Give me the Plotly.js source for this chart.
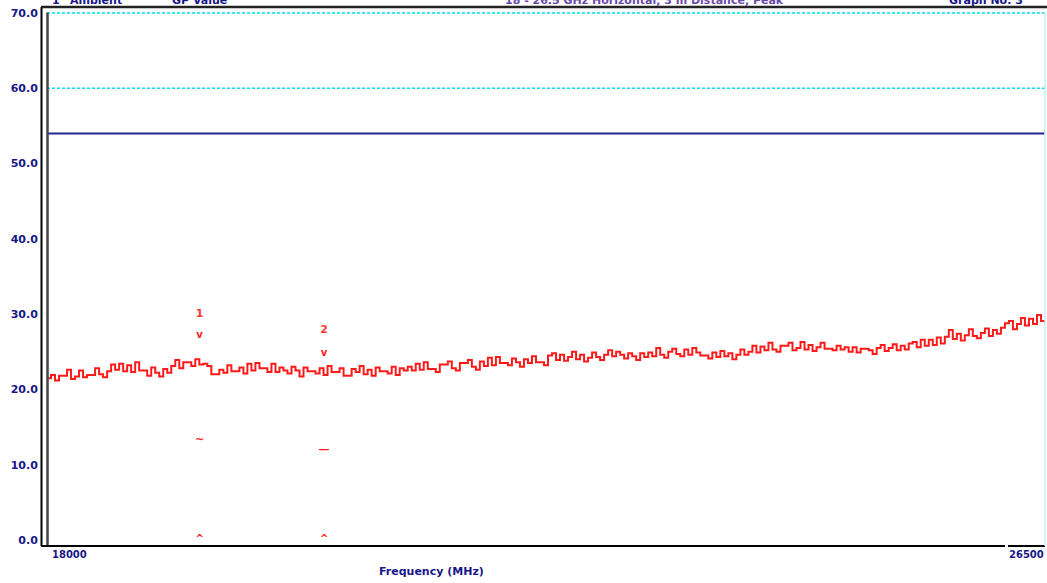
<!DOCTYPE html>
<html>
<head>
<meta charset="utf-8">
<script src="https://cdn.plot.ly/plotly-3.0.1.min.js"></script>
<style>
html,body{margin:0;padding:0;background:#fff;}
#chart{width:1047px;height:583px;}
</style>
</head>
<body>
<div id="chart"></div>
<script>
// ---- data ----
const freqStart = 18000;   // MHz
const freqStop = 26500;    // MHz
const traceLevel = [
  21.5, 21.9, 21.2, 21.8, 21.8, 22.6, 21.4, 21.7, 22.5, 21.6,
  21.9, 21.9, 22.8, 22.0, 21.6, 22.4, 23.3, 22.6, 23.4, 22.4,
  23.2, 22.3, 23.6, 22.5, 22.5, 21.8, 22.9, 22.2, 21.7, 22.7,
  22.2, 23.1, 23.9, 22.8, 23.6, 23.6, 23.1, 24.0, 23.3, 23.4,
  23.1, 22.0, 22.0, 22.6, 22.2, 23.2, 22.4, 22.4, 22.9, 22.1,
  23.4, 22.5, 23.5, 22.8, 22.8, 22.3, 23.4, 22.3, 22.9, 22.5,
  22.1, 23.0, 22.5, 21.7, 22.9, 22.4, 22.4, 22.1, 22.8, 21.9,
  23.1, 22.3, 22.3, 22.8, 21.8, 21.8, 22.7, 22.3, 23.1, 22.0,
  22.6, 21.8, 22.9, 22.4, 22.4, 22.1, 23.0, 21.9, 22.8, 22.5,
  23.0, 22.5, 23.4, 22.6, 23.6, 22.7, 22.7, 22.3, 23.3, 23.3,
  23.7, 22.8, 22.5, 23.5, 23.5, 23.9, 23.0, 22.6, 23.7, 23.1,
  24.2, 23.2, 24.3, 23.5, 23.5, 23.2, 24.1, 23.6, 23.0, 24.0,
  23.5, 24.4, 23.6, 23.6, 23.2, 24.5, 24.8, 23.9, 24.6, 23.8,
  24.3, 25.0, 24.0, 24.6, 23.7, 24.2, 24.9, 24.3, 23.9, 24.6,
  25.2, 24.4, 25.0, 24.6, 24.1, 24.8, 24.4, 23.9, 24.8, 24.3,
  24.9, 24.4, 25.5, 24.6, 24.2, 25.0, 25.4, 24.7, 24.4, 25.3,
  24.6, 25.5, 24.9, 24.5, 24.5, 24.1, 24.9, 24.3, 25.1, 24.4,
  24.8, 24.0, 24.6, 25.3, 24.6, 25.0, 25.8, 24.9, 25.7, 25.2,
  26.2, 25.3, 25.0, 25.8, 25.8, 26.2, 25.2, 25.5, 26.3, 25.3,
  25.9, 25.1, 25.6, 26.2, 25.4, 25.4, 25.2, 25.8, 25.3, 25.6,
  25.0, 25.6, 24.9, 25.4, 25.4, 25.2, 24.7, 25.5, 25.9, 25.1,
  25.5, 26.0, 25.2, 25.8, 25.3, 26.1, 26.3, 25.6, 26.6, 25.8,
  26.6, 25.9, 26.9, 26.1, 27.0, 27.9, 26.7, 27.4, 26.5, 27.2,
  28.0, 27.1, 26.8, 27.5, 28.1, 27.1, 27.9, 27.4, 28.2, 28.8,
  29.1, 28.0, 28.7, 29.5, 28.5, 29.4, 28.7, 29.9, 29.1, 28.8
];
const dashedLimits = [70, 60];
const solidLimit = [54];
const markerFreq = [19300, 20360];
const markerLabel = ['1', '2'];
const markerLabelLevel = [30.0, 27.8];
const markerPeakLevel = [27.1, 24.8];
const markerLowLevel = [13.2, 11.9];
const markerLowGlyph = ['~', '\u2014'];
const markerBaseLevel = [0, 0];
const yTickVals = [0, 10, 20, 30, 40, 50, 60, 70];
const yTickText = ['0.0', '10.0', '20.0', '30.0', '40.0', '50.0', '60.0', '70.0'];
const xTickLabels = ['18000', '26500'];
const headerTexts = ['1', 'Ambient', 'GP Value', '18 - 26.5 GHz Horizontal, 3 m Distance, Peak', 'Graph No. 3'];

// ---- build ----
const step = (freqStop - freqStart) / (traceLevel.length - 1);
const traceFreq = traceLevel.map((_, i) => freqStart + i * step);

const navy = '#17178a';
const red = '#ff1a1a';
const F = 'DejaVu Sans';

const traces = [];
dashedLimits.forEach(v => traces.push({
  x: [freqStart, freqStop], y: [v, v], mode: 'lines', hoverinfo: 'skip',
  line: {color: '#00e0f0', width: 1.5, dash: '3px,2px'}
}));
solidLimit.forEach(v => traces.push({
  x: [freqStart, freqStop], y: [v, v], mode: 'lines', hoverinfo: 'skip',
  line: {color: '#25258f', width: 2}
}));
traces.push({
  x: traceFreq, y: traceLevel, mode: 'lines',
  line: {color: red, width: 2, shape: 'hv'}
});
traces.push({x: markerFreq, y: markerLabelLevel, mode: 'text', text: markerLabel,
  textfont: {family: F, size: 11, color: '#ff3a30', weight: 'bold'}, textposition: 'middle center'});
traces.push({x: markerFreq, y: markerPeakLevel, mode: 'text', text: markerFreq.map(() => 'v'),
  textfont: {family: F, size: 10, color: red, weight: 'bold'}, textposition: 'middle center'});
traces.push({x: markerFreq, y: markerLowLevel, mode: 'text', text: markerLowGlyph,
  textfont: {family: F, size: 11, color: red, weight: 'bold'}, textposition: 'middle center'});
traces.push({x: markerFreq, y: markerBaseLevel, mode: 'text', text: markerFreq.map(() => '^'),
  textfont: {family: F, size: 10, color: red, weight: 'bold'}, textposition: 'middle center'});

const W = 998; // plot width px
const px = p => (p - 47) / W; // pixel -> paper x
const shapes = [
  {type: 'line', xref: 'paper', yref: 'paper', x0: px(41.5), x1: px(41.5), y0: 0, y1: 1.0, line: {color: '#000', width: 2}},
  {type: 'line', xref: 'paper', yref: 'paper', x0: px(47.5), x1: px(47.5), y0: 0, y1: 0.99, line: {color: '#444', width: 2.5}},
  {type: 'line', xref: 'paper', yref: 'paper', x0: px(41), x1: px(1047), y0: 1, y1: 1, line: {color: '#222', width: 2.5}},
  {type: 'line', xref: 'paper', yref: 'paper', x0: px(41), x1: px(1005), y0: 0, y1: 0, line: {color: '#000', width: 2}},
  {type: 'line', xref: 'paper', yref: 'paper', x0: px(1008), x1: px(1045), y0: 0, y1: 0, line: {color: '#000', width: 2}},
  {type: 'line', xref: 'paper', yref: 'paper', x0: 1, x1: 1, y0: 0, y1: 0.99, line: {color: '#bff4fa', width: 1.5}}
];

const annotations = [
  {xref: 'x', yref: 'paper', x: freqStart, y: 0, xanchor: 'left', yanchor: 'top', xshift: 3, yshift: -1,
   text: xTickLabels[0], showarrow: false, font: {family: F, size: 10, color: navy, weight: 'bold'}},
  {xref: 'x', yref: 'paper', x: freqStop, y: 0, xanchor: 'right', yanchor: 'top', xshift: 1, yshift: -1,
   text: xTickLabels[1], showarrow: false, font: {family: F, size: 10, color: navy, weight: 'bold'}},
  {xref: 'paper', yref: 'paper', x: px(431), y: 0, xanchor: 'center', yanchor: 'top', yshift: -17,
   text: 'Frequency (MHz)', showarrow: false, font: {family: F, size: 11, color: navy, weight: 'bold'}}
];
const headerX = [50, 68, 170, 503, 947];
headerTexts.forEach((t, i) => annotations.push({
  xref: 'paper', yref: 'paper', x: px(headerX[i]), y: 1, xanchor: 'left', yanchor: 'bottom', yshift: -2,
  text: t, showarrow: false, font: {family: F, size: 11, color: i === 3 ? '#6a4aa8' : navy, weight: 'bold'}
}));

const layout = {
  width: 1047, height: 583,
  margin: {l: 47, r: 2, t: 7, b: 37},
  paper_bgcolor: '#fff', plot_bgcolor: '#fff',
  showlegend: false,
  xaxis: {range: [freqStart, freqStop], showgrid: false, zeroline: false, showline: false,
    showticklabels: false, ticks: ''},
  yaxis: {range: [-0.8, 70.8], showgrid: false, zeroline: false, showline: false,
    tickvals: yTickVals, ticktext: yTickText, ticks: 'outside', ticklen: 6, tickcolor: 'rgba(0,0,0,0)',
    tickfont: {family: F, size: 11, color: navy, weight: 'bold'}},
  shapes: shapes,
  annotations: annotations
};

Plotly.newPlot('chart', traces, layout, {displayModeBar: false, staticPlot: true});
</script>
</body>
</html>
